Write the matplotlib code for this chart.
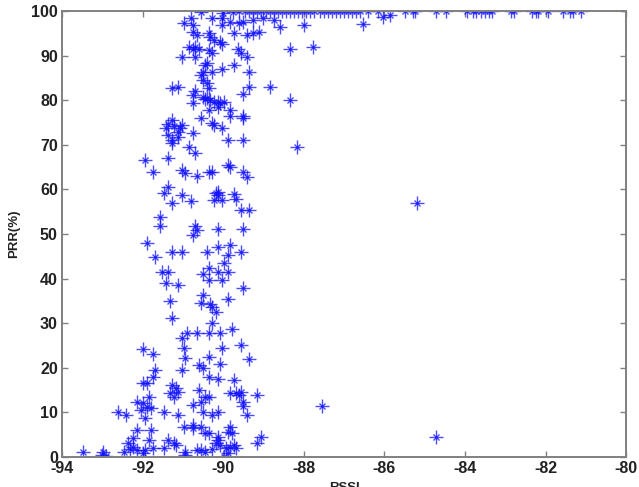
import matplotlib
matplotlib.use('Agg')
from matplotlib import pyplot as plt

plt.rcParams['font.family'] = ['Liberation Sans', 'DejaVu Sans']
plt.rcParams['axes.unicode_minus'] = False

# RSSI (dBm) / PRR (%)
rssi = [
    # 0 - 50
    -91.88, -91.70, -91.51, -91.38, -91.41, -91.28, -91.01, -91.31, -91.26, -91.11,
    -90.41, -90.14, -89.82, -89.89, -89.55,
    -90.51, -90.36, -90.14, -89.99, -89.87,
    -90.34, -90.02, -89.52, -89.87,
    -90.51, -90.54, -90.32, -90.29, -90.17, -90.27,
    -91.01, -90.89, -90.64, -90.34, -90.07, -89.77,
    -90.94, -90.98, -90.36, -90.04, -90.09, -89.55, -89.35,
    -91.98, -91.73, -91.70, -91.75, -92.00, -91.88,
    -92.13, -91.98, -91.88, -92.05, -91.80, -91.93, -91.85,
    -91.26, -91.18, -91.31, -91.23, -91.11,
    -91.48, -91.11, -91.01,
    -90.61, -90.56, -90.44, -90.36, -90.74, -90.51, -90.29, -90.12,
    -90.59, -90.49, -90.36, -90.14, -89.74,
    -89.82, -89.69, -89.62, -89.57, -89.52, -89.50, -89.40, -89.15, -89.07, -89.15,
    -92.60, -92.42,
    -93.47, -92.97, -92.92, -93.00, -92.47,
    -92.35, -92.25, -92.30, -92.13, -92.23, -92.13, -91.98, -91.93, -91.80, -91.85,
    -91.73, -91.48, -91.38, -91.23, -91.18,
    -90.94, -90.94, -90.64,
    -90.98, -90.76, -90.74, -90.56, -90.44, -90.36,
    -90.56, -90.44, -90.27, -90.19, -90.14, -90.12, -90.07,
    -89.94, -89.89, -89.82, -89.74, -89.69, -89.82, -89.77, -89.87, -89.99,
    -87.54, -84.73, -85.18,
    # 50 - 70
    -91.93, -91.73, -91.36, -91.58, -91.56, -91.48, -91.38, -91.28,
    -91.01, -90.96, -91.03, -90.81, -90.66, -90.36, -90.27,
    -90.19, -90.12, -90.14, -90.24, -90.02, -89.89, -89.84,
    -89.74, -89.67, -89.50, -89.40, -89.57, -89.37,
    -90.71, -90.64, -90.74, -90.12, -89.52,
    # 70 - 90
    -91.43, -91.36, -91.28, -91.23, -91.13, -91.11, -91.38, -91.26, -91.06, -91.01, -91.28,
    -90.74, -90.86, -90.69,
    -91.26, -91.11, -90.76, -90.69, -90.76, -90.56,
    -90.49, -90.44, -90.39, -90.32, -90.24, -90.12, -90.07, -90.14, -89.99, -90.36,
    -90.29, -90.24, -89.82, -90.02, -89.82, -89.52, -89.50, -89.87, -89.52, -89.50, -89.35,
    -90.56, -90.49, -90.39, -90.36, -90.51, -90.46, -90.39, -90.27, -90.02, -89.74, -89.37,
    -88.83, -88.33, -88.18, -88.33, -87.78,
    # 90 - 100
    -91.01, -90.86, -90.76, -90.69, -90.61, -90.71, -90.36, -90.27, -89.64, -89.57, -89.40,
    -90.98, -90.81, -90.74, -90.56, -90.76, -90.64,
    -90.36, -90.32, -90.24, -90.09, -90.04,
    -90.29, -90.04, -90.02, -89.82, -89.74, -89.62, -89.40, -89.25, -89.12,
    -89.52, -89.27, -89.00, -88.75, -88.58, -88.00,
    -86.54, -86.04, -85.85,
    -90.00, -89.75,
    # 100 row
    -89.60, -89.45, -89.35, -89.25, -89.15, -89.05, -88.95, -88.85, -88.75, -88.65,
    -88.55, -88.45, -88.35, -88.25, -88.15, -88.05, -87.95, -87.85, -87.75, -87.60,
    -87.50, -87.40, -87.30, -87.20, -87.10, -87.00, -86.90, -86.80, -86.70, -86.60,
    -86.40, -86.15, -85.48, -85.30, -85.23, -84.73, -84.48, -83.94, -83.79, -83.72,
    -83.60, -83.50, -83.40, -83.32, -82.87, -82.78, -82.33, -82.25, -82.18, -81.95,
    -81.58, -81.40, -81.33, -81.13, -79.94,
]

prr = [
    48.0, 44.9, 41.5, 41.5, 39.0, 46.0, 46.0, 35.0, 31.2, 38.6,
    46.0, 47.0, 47.5, 45.3, 46.0,
    41.0, 42.4, 41.5, 43.5, 41.5,
    39.7, 39.7, 37.9, 35.4,
    36.3, 34.5, 34.3, 33.6, 32.5, 30.0,
    26.7, 27.8, 27.8, 27.8, 27.8, 28.7,
    22.2, 24.4, 22.4, 24.4, 20.9, 25.1, 22.0,
    24.2, 23.1, 19.5, 17.9, 16.6, 16.6,
    12.3, 12.1, 11.2, 10.5, 11.0, 8.7, 13.5,
    16.1, 15.5, 14.3, 13.5, 14.6,
    10.1, 9.4, 19.5,
    15.0, 12.3, 13.5, 13.5, 11.7, 10.1, 9.4, 10.1,
    20.6, 20.0, 17.9, 17.5, 17.3,
    14.3, 14.3, 13.9, 14.6, 12.3, 11.4, 9.4, 13.9, 4.5, 3.1,
    10.1, 9.4,
    1.1, 1.1, 0.2, 0.5, 1.1,
    3.1, 4.3, 1.8, 6.1, 2.2, 1.6, 0.9, 1.6, 6.1, 3.8,
    2.0, 2.0, 3.8, 3.1, 2.7,
    1.1, 0.4, 1.6,
    6.7, 7.2, 6.5, 6.7, 5.4, 5.4,
    1.6, 1.1, 1.8, 3.1, 3.8, 4.5, 2.7,
    2.0, 0.9, 2.2, 2.7, 2.0, 6.7, 5.4, 5.6, 0.0,
    11.4, 4.5, 57.0,
    66.6, 63.9, 67.0, 53.8, 51.8, 59.2, 60.5, 57.0,
    64.3, 63.7, 58.7, 57.4, 63.0, 63.9, 63.9,
    59.2, 58.7, 59.4, 57.6, 57.6, 65.5, 65.0,
    59.0, 57.8, 63.9, 62.8, 55.4, 55.4,
    51.8, 50.9, 49.8, 51.1, 51.1,
    73.8, 74.7, 75.6, 74.2, 72.9, 71.7, 72.2, 71.1, 73.8, 74.4, 70.4,
    72.6, 69.5, 68.2,
    82.7, 83.0, 81.2, 82.1, 79.4, 76.0,
    80.7, 80.3, 80.5, 80.0, 79.6, 79.6, 79.4, 78.5, 79.6, 77.8,
    74.9, 74.4, 77.8, 73.8, 76.5, 76.5, 76.0, 71.1, 71.1, 81.4, 83.0,
    85.6, 84.5, 83.9, 82.7, 86.3, 87.9, 88.3, 86.3, 87.0, 87.9, 86.3,
    83.0, 80.0, 69.5, 91.5, 92.0,
    89.7, 92.0, 91.5, 92.0, 91.5, 89.7, 91.3, 90.6, 91.5, 90.6, 89.7,
    97.3, 98.4, 96.9, 99.8, 95.3, 94.6,
    95.1, 94.2, 93.5, 93.0, 92.6,
    98.4, 98.4, 96.9, 97.5, 95.1, 97.3, 94.6, 95.1, 95.3,
    97.5, 98.0, 98.4, 98.0, 96.4, 96.9,
    97.1, 98.7, 99.1,
    99.5, 99.8,
] + [100.0] * 55

fig = plt.figure(figsize=(6.39, 4.87), dpi=100)
ax = fig.add_axes([0.097, 0.0616, 0.883, 0.916])

# matlab-ish '*' marker: long '+' arms plus a small 'x'
ax.plot(rssi, prr, '+', color='#1010ff', markersize=10, markeredgewidth=1.0, alpha=0.75)
ax.plot(rssi, prr, 'x', color='#1010ff', markersize=4.5, markeredgewidth=1.0, alpha=0.75)

ax.set_xlim(-94, -80)
ax.set_ylim(0, 100)
ax.set_xticks(range(-94, -79, 2))
ax.set_yticks(range(0, 101, 10))

for s in ax.spines.values():
    s.set_color('#808080')
    s.set_linewidth(1.4)
ax.tick_params(direction='in', top=True, right=True, length=4, width=1,
               color='#808080', labelsize=11.5, labelcolor='#222222', pad=3)
for lab in ax.get_xticklabels() + ax.get_yticklabels():
    lab.set_fontweight('bold')

ax.set_ylabel('PRR(%)', fontsize=9.5, fontweight='bold', color='#222222', labelpad=8)
ax.set_xlabel('RSSI', fontsize=9.5, fontweight='bold', color='#222222', labelpad=4)

fig.savefig('out.png', dpi=100)
